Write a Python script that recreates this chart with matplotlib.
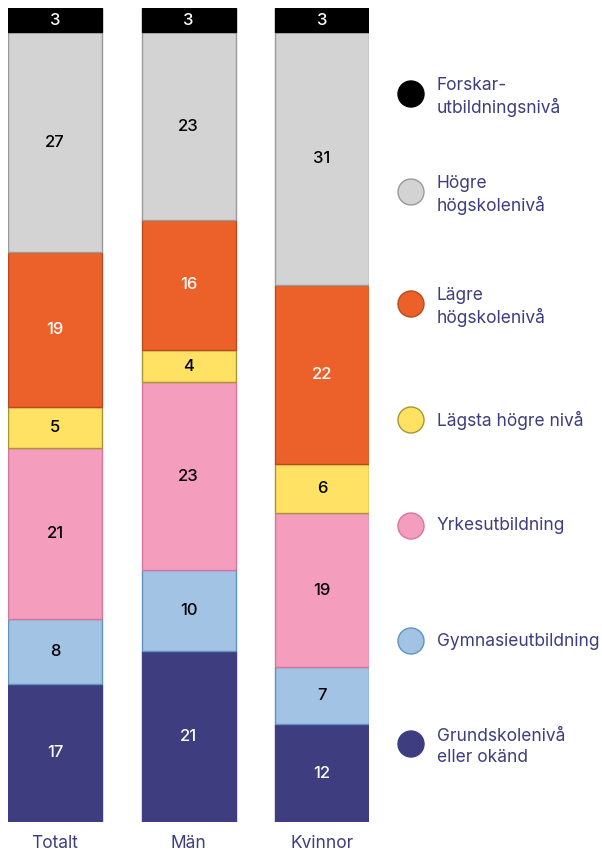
import matplotlib
matplotlib.use("Agg")
import matplotlib.pyplot as plt
from matplotlib.patches import Circle

plt.rcParams['font.family'] = ['Inter', 'DejaVu Sans']

groups = ["Totalt", "Män", "Kvinnor"]
levels = ["Grundskolenivå\neller okänd", "Gymnasieutbildning", "Yrkesutbildning",
          "Lägsta högre nivå", "Lägre\nhögskolenivå", "Högre\nhögskolenivå",
          "Forskar-\nutbildningsnivå"]
values = {
    "Totalt":  [17, 8, 21, 5, 19, 27, 3],
    "Män":     [21, 10, 23, 4, 16, 23, 3],
    "Kvinnor": [12, 7, 19, 6, 22, 31, 3],
}
colors = ["#3d3d7f", "#a3c3e4", "#f49dbd", "#ffe263", "#eb6129", "#d3d3d3", "#000000"]
edges = ["#3d3d7f", "#5e93c2", "#d9759c", "#a89535", "#b84a20", "#9a9a9a", "#000000"]
textcol = ["white", "black", "black", "black", "white", "black", "white"]
navy = "#3d3d7f"

W, H = 602, 852
fig = plt.figure(figsize=(W/100, H/100), dpi=100)
ax = fig.add_axes([8/W, (H-822)/H, (369-8)/W, (822-8)/H])
width = 94/133.5
for gi, g in enumerate(groups):
    bottom = 0
    for li, v in enumerate(values[g]):
        ax.bar(gi, v, width=width, bottom=bottom, color=colors[li],
               edgecolor=edges[li], linewidth=1)
        ax.text(gi, bottom + v/2, str(v), ha="center", va="center",
                color=textcol[li], fontsize=12, fontweight="medium")
        bottom += v
ax.set_xlim(-width/2, 2 + width/2)
ax.set_ylim(0, 100)
ax.axis("off")

for gi, g in enumerate(groups):
    xc = 8 + 47 + gi*133.5
    fig.text(xc/W, 1 - 843/H, g, ha="center", va="center", color=navy, fontsize=12.5)

# legend
leg_y = [94, 192, 304, 420, 526, 641, 744]
order = list(range(len(levels)))[::-1]
lax = fig.add_axes([0, 0, 1, 1])
lax.set_xlim(0, W)
lax.set_ylim(H, 0)
lax.axis("off")
for y, li in zip(leg_y, order):
    lax.add_patch(Circle((411, y), 13, facecolor=colors[li], edgecolor=edges[li], linewidth=1))
    dy = 3 if "\n" in levels[li] else 0
    lax.text(437, y + dy, levels[li], ha="left", va="center", color=navy, fontsize=12.5,
             linespacing=1.3)

fig.savefig("out.png", dpi=100)
